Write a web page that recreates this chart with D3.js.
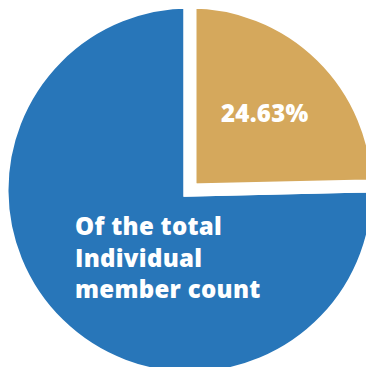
<!DOCTYPE html>
<meta charset="utf-8">
<script src="https://d3js.org/d3.v7.min.js"></script>
<style>
  body { margin: 0; background: #fff; }
</style>
<div id="chart"></div>
<script>

    // data
    var categories = ["Share", "Rest"];
    var values = [24.63, 75.37];
    var colors = ["#D5A85C", "#2876B9"];
    var sliceLabels = ["24.63%", ""];
    var captionLines = ["Of the total", "Individual", "member count"];

    var width = 366, height = 367;
    var cx = 190, cy = 190, radius = 188;

    var svg = d3.select("#chart")
        .append("svg")
        .attr("width", width)
        .attr("height", height)
        .append("g")
        .attr("transform", "translate(" + cx + "," + cy + ")");

    var pie = d3.pie().sort(null).value(function (d) { return d; });
    var arcs = pie(values);

    var arc = d3.arc().innerRadius(0).outerRadius(radius);
    var labelArc = d3.arc().innerRadius(0).outerRadius(214);

    // draw the big slice first so the small one sits on top
    svg.selectAll("path.slice")
        .data(arcs.slice().reverse())
        .enter()
        .append("path")
        .attr("class", "slice")
        .attr("d", arc)
        .attr("fill", function (d) { return colors[d.index]; })
        .attr("stroke", "#fff")
        .attr("stroke-width", 13)
        .attr("stroke-linejoin", "miter");

    svg.selectAll("text.pct")
        .data(arcs.filter(function (d) { return sliceLabels[d.index]; }))
        .enter()
        .append("text")
        .attr("class", "pct")
        .attr("transform", function (d) { return "translate(" + labelArc.centroid(d) + ")"; })
        .attr("dy", "0.36em")
        .attr("text-anchor", "middle")
        .attr("fill", "#fff")
        .style("font-family", "'Open Sans', sans-serif")
        .style("font-weight", 800)
        .style("font-size", "24px")
        .style("letter-spacing", "0.3px")
        .text(function (d) { return sliceLabels[d.index]; });

    // caption in the blue slice
    svg.append("text")
        .attr("x", -115)
        .attr("y", 45)
        .attr("fill", "#fff")
        .style("font-family", "'Open Sans', sans-serif")
        .style("font-weight", 800)
        .style("font-size", "24px")
        .style("letter-spacing", "0.3px")
        .selectAll("tspan")
        .data(captionLines)
        .enter()
        .append("tspan")
        .attr("x", -115)
        .attr("dy", function (d, i) { return i === 0 ? 0 : 31.5; })
        .text(function (d) { return d; });

</script>
